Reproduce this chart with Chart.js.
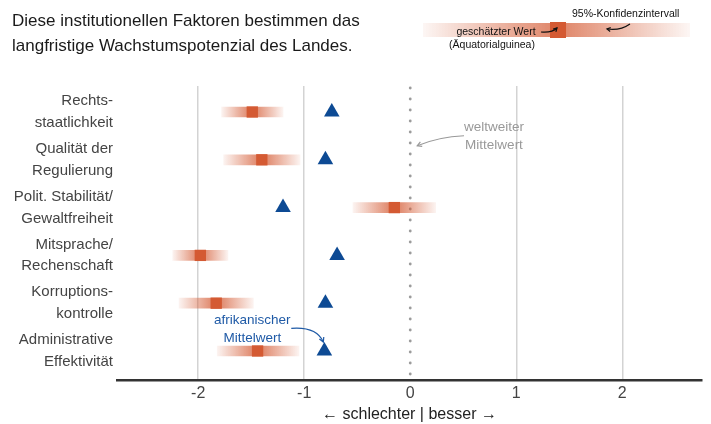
<!DOCTYPE html>
<html lang="de">
<head>
<meta charset="utf-8">
<script src="https://cdn.jsdelivr.net/npm/chart.js@4/dist/chart.umd.min.js"></script>
<style>
  html, body { margin: 0; padding: 0; background: #fff; }
  #wrap { position: relative; width: 711px; height: 424px; }
  #title {
    position: absolute; left: 12px; top: 8px;
    font: 17px "Liberation Sans", Arial, sans-serif; line-height: 25px; color: #1a1a1a;
  }
</style>
</head>
<body>
<div id="wrap">
  <canvas id="chart" width="711" height="424"></canvas>
  <div id="title">Diese institutionellen Faktoren bestimmen das<br>langfristige Wachstumspotenzial des Landes.</div>
</div>
<script>
const categories = [
  ['Rechts-', 'staatlichkeit'],
  ['Qualität der', 'Regulierung'],
  ['Polit. Stabilität/', 'Gewaltfreiheit'],
  ['Mitsprache/', 'Rechenschaft'],
  ['Korruptions-', 'kontrolle'],
  ['Administrative', 'Effektivität'],
];
// Äquatorialguinea: Schätzwert und 95%-Konfidenzintervall
const estimate = [-1.49, -1.40, -0.15, -1.98, -1.83, -1.44];
const ciLow = [-1.78, -1.76, -0.54, -2.24, -2.18, -1.82];
const ciHigh = [-1.20, -1.04, 0.24, -1.72, -1.48, -1.05];
// afrikanischer Mittelwert
const africaMean = [-0.74, -0.80, -1.20, -0.69, -0.80, -0.81];
const worldMean = 0;
const xTickValues = [-2, -1, 0, 1, 2];

const RED = '212,90,51';
const FONT = '"Liberation Sans", Arial, sans-serif';

function ciGradient(ctx) {
  const chart = ctx.chart;
  const i = ctx.dataIndex;
  const xs = chart.scales.x;
  const fallback = `rgba(${RED},0.4)`;
  if (i === undefined || !xs) return fallback;
  const lo = xs.getPixelForValue(ciLow[i]);
  const hi = xs.getPixelForValue(ciHigh[i]);
  const mid = xs.getPixelForValue(estimate[i]);
  if (![lo, hi, mid].every(Number.isFinite) || hi <= lo) return fallback;
  const g = chart.ctx.createLinearGradient(lo, 0, hi, 0);
  const m = Math.min(0.95, Math.max(0.05, (mid - lo) / (hi - lo)));
  g.addColorStop(0, `rgba(${RED},0.07)`);
  g.addColorStop(m, `rgba(${RED},0.8)`);
  g.addColorStop(1, `rgba(${RED},0.07)`);
  return g;
}

function arrow(c, pts, color, head) {
  // pts: start, control, end
  c.save();
  c.strokeStyle = color;
  c.lineWidth = 1.2;
  c.beginPath();
  c.moveTo(pts[0], pts[1]);
  c.quadraticCurveTo(pts[2], pts[3], pts[4], pts[5]);
  c.stroke();
  const ang = Math.atan2(pts[5] - pts[3], pts[4] - pts[2]);
  c.beginPath();
  c.moveTo(pts[4] - head * Math.cos(ang - 0.5), pts[5] - head * Math.sin(ang - 0.5));
  c.lineTo(pts[4], pts[5]);
  c.lineTo(pts[4] - head * Math.cos(ang + 0.5), pts[5] - head * Math.sin(ang + 0.5));
  c.stroke();
  c.restore();
}

const extras = {
  id: 'extras',
  beforeDatasetsDraw(chart) {
    const {ctx: c, scales: {x}, chartArea} = chart;
    // weltweiter Mittelwert als gepunktete Linie
    const px = x.getPixelForValue(worldMean);
    c.save();
    c.fillStyle = '#9b9b9b';
    for (let py = chartArea.top + 2; py < chartArea.bottom; py += 11) {
      c.beginPath();
      c.arc(px, py, 1.4, 0, Math.PI * 2);
      c.fill();
    }
    c.restore();
  },
  afterDraw(chart) {
    const {ctx: c, scales: {x, y}} = chart;
    c.save();
    c.textAlign = 'center';
    c.textBaseline = 'middle';

    // weltweiter Mittelwert
    const wx = x.getPixelForValue(0.79), wy = y.getPixelForValue(0.33);
    c.font = `13.5px ${FONT}`;
    c.fillStyle = '#999';
    c.fillText('weltweiter', wx, wy);
    c.fillText('Mittelwert', wx, wy + 18);
    arrow(c, [wx - 30, wy + 8, wx - 55, wy + 9, x.getPixelForValue(worldMean) + 7, wy + 18], '#999', 5);

    // afrikanischer Mittelwert
    const ax = x.getPixelForValue(-1.49), ay = y.getPixelForValue(4.36);
    c.font = `13.5px ${FONT}`;
    c.fillStyle = '#1f5aa6';
    c.fillText('afrikanischer', ax, ay);
    c.fillText('Mittelwert', ax, ay + 18);
    const tx = x.getPixelForValue(africaMean[5]), ty = y.getPixelForValue(5);
    arrow(c, [ax + 39, ay + 8, tx - 8, ay + 6, tx - 1, ty - 9], '#1f5aa6', 5);

    // Legende oben rechts
    const L = 423, R = 690, top = 23, h = 14, sq = 550, sqW = 16;
    const g = c.createLinearGradient(L, 0, R, 0);
    const m = (sq + sqW / 2 - L) / (R - L);
    g.addColorStop(0, `rgba(${RED},0.05)`);
    g.addColorStop(m, `rgba(${RED},0.75)`);
    g.addColorStop(1, `rgba(${RED},0.05)`);
    c.fillStyle = g;
    c.fillRect(L, top, R - L, h);
    c.fillStyle = `rgb(${RED})`;
    c.fillRect(sq, top - 1, sqW, sqW);

    c.font = `10.5px ${FONT}`;
    c.fillStyle = '#111';
    c.textAlign = 'left';
    c.fillText('95%-Konfidenzintervall', 572, 14);
    c.textAlign = 'center';
    c.fillText('geschätzter Wert', 496, 32);
    c.fillText('(Äquatorialguinea)', 492, 45);
    arrow(c, [541, 32, 552, 33, 557, 28], '#111', 4);
    arrow(c, [630, 24, 620, 31, 607, 29], '#111', 4);
    c.restore();
  }
};

new Chart(document.getElementById('chart'), {
  type: 'scatter',
  data: {
    datasets: [
      {
        type: 'bar',
        label: '95%-Konfidenzintervall',
        indexAxis: 'y',
        data: categories.map((_, i) => ({x: [ciLow[i], ciHigh[i]], y: i})),
        backgroundColor: ciGradient,
        borderWidth: 0,
        barThickness: 10,
        order: 3,
      },
      {
        label: 'geschätzter Wert',
        data: categories.map((_, i) => ({x: estimate[i], y: i})),
        pointStyle: 'rect',
        pointRadius: 8,
        backgroundColor: `rgb(${RED})`,
        borderWidth: 0,
        order: 2,
      },
      {
        label: 'afrikanischer Mittelwert',
        data: categories.map((_, i) => ({x: africaMean[i], y: i})),
        pointStyle: 'triangle',
        pointRadius: 9,
        backgroundColor: '#0d4a94',
        borderWidth: 0,
        order: 1,
      },
    ]
  },
  options: {
    responsive: false,
    animation: false,
    layout: {padding: {top: 86, right: 8, left: 0, bottom: 0}},
    plugins: {legend: {display: false}, tooltip: {enabled: false}},
    scales: {
      x: {
        type: 'linear',
        min: -2.766,
        max: 2.752,
        offset: false,
        afterBuildTicks: s => { s.ticks = xTickValues.map(v => ({value: v})); },
        afterFit: s => { s.height = 44; },
        grid: {
          color: c => (c.tick && c.tick.value === worldMean ? 'rgba(0,0,0,0)' : '#d3d3d3'),
          lineWidth: 1.5,
          drawTicks: false,
          offset: false,
        },
        border: {display: true, color: '#333', width: 2.5},
        ticks: {
          font: {family: FONT, size: 16},
          color: '#444',
          padding: 4,
          callback: v => String(v),
        },
        title: {
          display: true,
          text: '← schlechter | besser →',
          font: {family: FONT, size: 16},
          color: '#222',
          padding: {top: 0, bottom: 0},
        },
      },
      y: {
        type: 'linear',
        reverse: true,
        min: -0.544,
        max: 5.607,
        offset: false,
        afterBuildTicks: s => { s.ticks = categories.map((_, i) => ({value: i})); },
        afterFit: s => { s.width = 117; },
        grid: {display: false, drawTicks: false, offset: false},
        border: {display: false},
        ticks: {
          font: {family: FONT, size: 15, lineHeight: 1.45},
          color: '#444',
          padding: 4,
          callback: v => categories[v],
        },
      },
    },
  },
  plugins: [extras],
});
</script>
</body>
</html>
